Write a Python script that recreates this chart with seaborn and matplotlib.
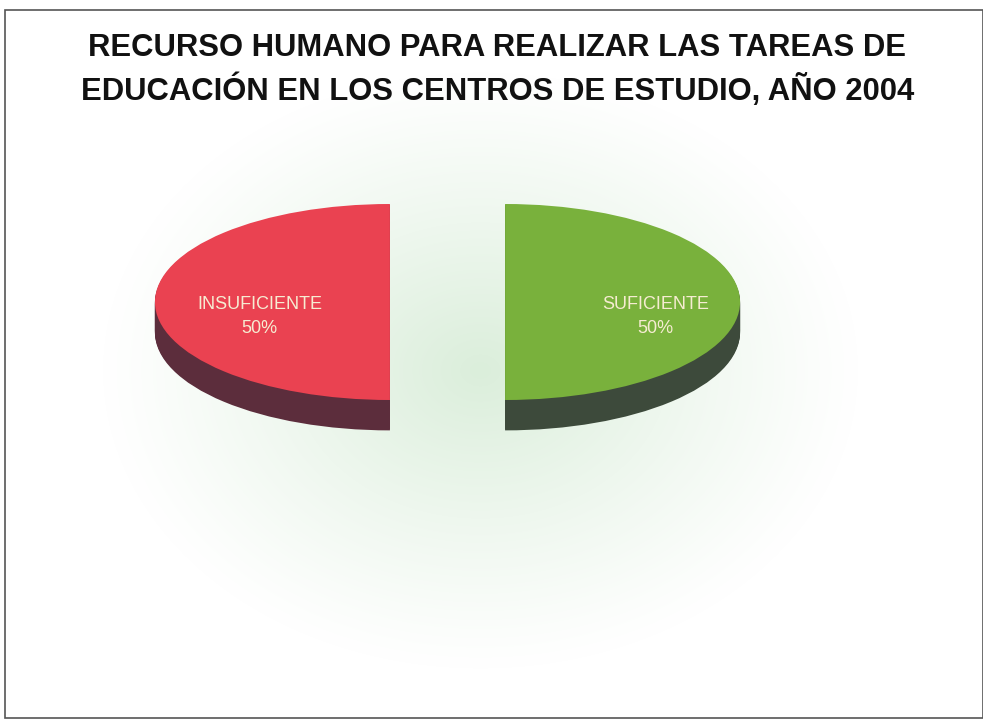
import numpy as np
import matplotlib.pyplot as plt
import seaborn as sns
from matplotlib.colors import LinearSegmentedColormap
from matplotlib.patches import Rectangle

# datos del grafico
categorias = ["INSUFICIENTE", "SUFICIENTE"]
porcentajes = [50, 50]
titulo = "RECURSO HUMANO PARA REALIZAR LAS TAREAS DE\nEDUCACIÓN EN LOS CENTROS DE ESTUDIO, AÑO 2004"

sns.set_theme(style="white")
plt.rcParams["font.family"] = ["Liberation Sans", "DejaVu Sans"]

color_top = ["#ea4251", "#79b13c"]
color_side = ["#5c2d3c", "#3d4a3b"]

W, H = 983, 723
fig = plt.figure(figsize=(W / 100, H / 100), dpi=100)
fig.patch.set_facecolor("white")

# fondo con brillo verde palido
bg = fig.add_axes([0, 0, 1, 1])
yy, xx = np.mgrid[0:H, 0:W]
d = np.sqrt(((xx - 480) / 380.0) ** 2 + ((yy - 370) / 300.0) ** 2)
glow = np.clip(1 - d, 0, 1) ** 1.1
cmap_bg = LinearSegmentedColormap.from_list("bg", ["#ffffff", "#dbeedb"])
bg.imshow(glow, cmap=cmap_bg, aspect="auto", extent=(0, W, H, 0))
bg.set_axis_off()

# pastel 3D
ax = fig.add_axes([0, 0, 1, 1])
ax.patch.set_alpha(0)
rx, ry = 235.0, 98.0  # pixeles por unidad
cx, cy = 447.5, 302.0
explode = [0.245, 0.245]
depth = 0.31
n = 32
for k in range(n, 0, -1):
    ax.pie(porcentajes, colors=color_side, startangle=90, explode=explode,
           center=(0, -depth * k / n), wedgeprops=dict(linewidth=0))
wedges, texts, autotexts = ax.pie(
    porcentajes, colors=color_top, startangle=90, explode=explode,
    autopct=lambda p: "", wedgeprops=dict(linewidth=0))

label_pos = [(-0.80, -0.15), (0.885, -0.15)]
for i, t in enumerate(autotexts):
    t.set_text(f"{categorias[i]}\n{porcentajes[i]}%")
    t.set_position(label_pos[i])
    t.set_color("#f6ecd2")
    t.set_fontsize(13)
    t.set_ha("center")
    t.set_va("center")
    t.set_linespacing(1.55)

ax.set_aspect("auto")
ax.set_xlim(-cx / rx, (W - cx) / rx)
ax.set_ylim(-(H - cy) / ry, cy / ry)
ax.set_axis_off()

fig.text(0.506, 1 - 70 / H, titulo, ha="center", va="center", fontsize=22.3,
         fontweight="bold", color="#111111", linespacing=1.4)

fig.patches.append(Rectangle((5 / W, 5 / H), 1 - 5 / W, 1 - 15 / H, transform=fig.transFigure,
                             fill=False, edgecolor="#555555", linewidth=1.2))

fig.savefig("out.png", dpi=100)
